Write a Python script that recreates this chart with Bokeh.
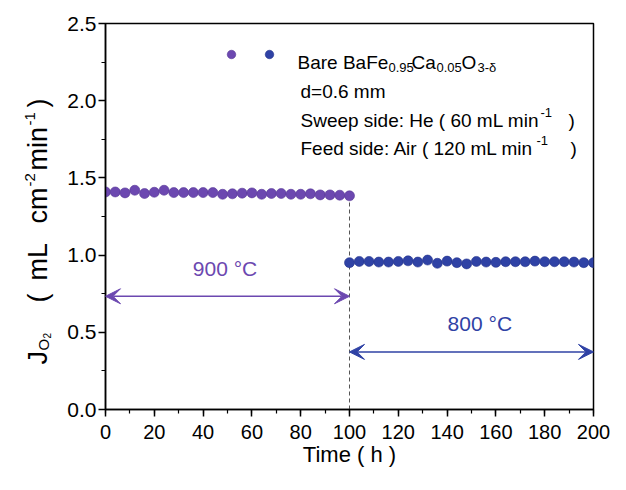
import math
from bokeh.plotting import figure
from bokeh.layouts import row
from bokeh.models import (Range1d, SingleIntervalTicker, NumeralTickFormatter,
                          Label, Arrow, VeeHead)
from bokeh.core.properties import value
from bokeh.embed import file_html
from bokeh.resources import INLINE

# ---------------- data ----------------
t_900 = [0, 4, 8, 12, 16, 20, 24, 28, 32, 36, 40, 44, 48, 52, 56, 60, 64, 68,
         72, 76, 80, 84, 88, 92, 96, 100]
j_900 = [1.409, 1.409, 1.403, 1.420, 1.399, 1.407, 1.420, 1.405, 1.405, 1.405,
         1.405, 1.405, 1.394, 1.397, 1.401, 1.403, 1.394, 1.399, 1.399, 1.394,
         1.394, 1.397, 1.390, 1.390, 1.388, 1.384]
t_800 = [100, 104, 108, 112, 116, 120, 124, 128, 132, 136, 140, 144, 148, 152,
         156, 160, 164, 168, 172, 176, 180, 184, 188, 192, 196, 200]
j_800 = [0.951, 0.959, 0.959, 0.955, 0.955, 0.959, 0.963, 0.955, 0.968, 0.947,
         0.961, 0.951, 0.943, 0.959, 0.955, 0.953, 0.957, 0.957, 0.957, 0.961,
         0.957, 0.957, 0.957, 0.955, 0.951, 0.951]
x_tick_interval = 20
y_tick_interval = 0.5

PURPLE = "#6c48b0"
BLUE = "#2f42a5"
FONT = "Liberation Sans"

W, H = 610, 474
LW = 56                              # width of the y-title strip
FL, FR, FT, FB = 105, 593, 23, 409   # frame in picture px

# reference-picture px -> data (reference frame 106..604, 23..415)
def rx(px):
    return (px - 106) * 200.0 / 498
def ry(py):
    return (415 - py) * 2.5 / 392
# picture px -> data (own frame), for absolutely placed text
def px_x(px):
    return (px - FL) * 200.0 / (FR - FL)
def px_y(py):
    return (FB - py) * 2.5 / (FB - FT)

# ---------- y-title strip (pixel coordinate system) ----------
ya = figure(width=LW, height=H, output_backend="svg", toolbar_location=None,
            x_range=Range1d(0, LW), y_range=Range1d(FB, FT),
            x_axis_location=None, y_axis_location=None,
            min_border_left=0, min_border_right=0, min_border_top=FT,
            min_border_bottom=H - FB)
ya.outline_line_color = None
ya.grid.visible = False
ya.background_fill_color = "white"
ya.border_fill_color = "white"
R = math.pi / 2
ytitle = [  # (text, baseline x px, start y px, font px)
    ("J", 37, 364, 27),
    ("O", 43, 350, 15),
    ("2", 46, 338, 10),
    ("(", 37, 302, 27),
    ("mL", 37, 280, 27),
    ("cm", 37, 223, 27),
    ("-2", 29, 186, 15),
    ("min", 37, 170, 27),
    ("-1", 29, 125, 15),
    (")", 37, 107, 27),
]
for t, bx, sy, fs in ytitle:
    ya.text(x=[bx], y=[sy], text=[t], angle=R, text_font=value(FONT),
            text_font_size=value(f"{fs}px"), text_color="black",
            text_align="left", text_baseline="alphabetic")

# ---------- main plot ----------
p = figure(width=W - LW, height=H, output_backend="svg", toolbar_location=None,
           x_range=Range1d(0, 200), y_range=Range1d(0, 2.5))
p.min_border_left = FL - LW
p.min_border_right = W - FR
p.min_border_top = FT
p.min_border_bottom = H - FB
p.background_fill_color = "white"
p.border_fill_color = "white"
p.outline_line_color = "black"
p.outline_line_width = 1.5
p.xgrid.visible = False
p.ygrid.visible = False

p.xaxis.ticker = SingleIntervalTicker(interval=x_tick_interval, num_minor_ticks=2)
p.yaxis.ticker = SingleIntervalTicker(interval=y_tick_interval, num_minor_ticks=2)
p.yaxis.formatter = NumeralTickFormatter(format="0.0")
for ax in (p.xaxis, p.yaxis):
    ax.axis_line_width = 1.5
    ax.axis_line_color = "black"
    ax.major_tick_line_width = 1.5
    ax.minor_tick_line_width = 1.2
    ax.major_tick_in = 0
    ax.major_tick_out = 7
    ax.minor_tick_in = 0
    ax.minor_tick_out = 4
    ax.major_label_text_font = FONT
    ax.major_label_text_color = "black"
p.xaxis.major_label_text_font_size = "20px"
p.yaxis.major_label_text_font_size = "21px"
p.xaxis.major_label_standoff = 8
p.yaxis.major_label_standoff = 2
p.xaxis.axis_label = "Time ( h )"
p.xaxis.axis_label_text_font = FONT
p.xaxis.axis_label_text_font_size = "22px"
p.xaxis.axis_label_text_font_style = "normal"
p.xaxis.axis_label_text_color = "black"
p.xaxis.axis_label_standoff = 0

# dashed separator
p.segment(x0=[t_900[-1]], y0=[0], x1=[t_900[-1]], y1=[j_900[-1]],
          line_color="#555555", line_width=1, line_dash="4 3")

# data
p.scatter(t_900, j_900, size=10, fill_color=PURPLE, line_color="#563596", line_width=0.6)
p.scatter(t_800, j_800, size=10, fill_color=BLUE, line_color="#23338b", line_width=0.6)

# arrows
p.add_layout(Arrow(x_start=t_900[0], x_end=t_900[-1], y_start=ry(300), y_end=ry(300),
                   line_color=PURPLE, line_width=1.5,
                   start=VeeHead(size=15, fill_color=PURPLE, line_color=PURPLE),
                   end=VeeHead(size=15, fill_color=PURPLE, line_color=PURPLE)))
p.add_layout(Arrow(x_start=t_800[0], x_end=t_800[-1], y_start=ry(356.5), y_end=ry(356.5),
                   line_color=BLUE, line_width=1.5,
                   start=VeeHead(size=15, fill_color=BLUE, line_color=BLUE),
                   end=VeeHead(size=15, fill_color=BLUE, line_color=BLUE)))

p.add_layout(Label(x=rx(228), y=ry(271.5), text="900 \u00b0C", text_font=FONT,
                   text_font_size="21px", text_color=PURPLE, text_align="center",
                   text_baseline="alphabetic"))
p.add_layout(Label(x=rx(488), y=ry(328), text="800 \u00b0C", text_font=FONT,
                   text_font_size="21px", text_color=BLUE, text_align="center",
                   text_baseline="alphabetic"))

def lab(text, px, py, size, color="black"):
    p.add_layout(Label(x=px_x(px), y=px_y(py), text=text, text_font=FONT,
                       text_font_size=f"{size}px", text_color=color,
                       text_align="left", text_baseline="alphabetic"))

# legend-like text block
p.scatter([px_x(231)], [px_y(54)], size=8.5, fill_color=PURPLE, line_color="#563596", line_width=0.6)
p.scatter([px_x(269)], [px_y(54)], size=8.5, fill_color=BLUE, line_color="#23338b", line_width=0.6)
lab("Bare BaFe", 297, 61.5, 19)
lab("0.95", 388, 67, 13)
lab("Ca", 411, 61.5, 19)
lab("0.05", 436, 67, 13)
lab("O", 461, 61.5, 19)
lab("3-\u03b4", 477, 67, 13)
lab("d=0.6 mm", 300, 91, 19)
lab("Sweep side: He ( 60 mL min", 300, 120, 19)
lab("-1", 540, 112, 13)
lab(")", 568, 120, 19)
lab("Feed side: Air ( 120 mL min", 300, 148, 19)
lab("-1", 536, 140, 13)
lab(")", 570, 148, 19)

layout = row(ya, p, spacing=0)
open("out.html", "w").write(file_html(layout, INLINE))
